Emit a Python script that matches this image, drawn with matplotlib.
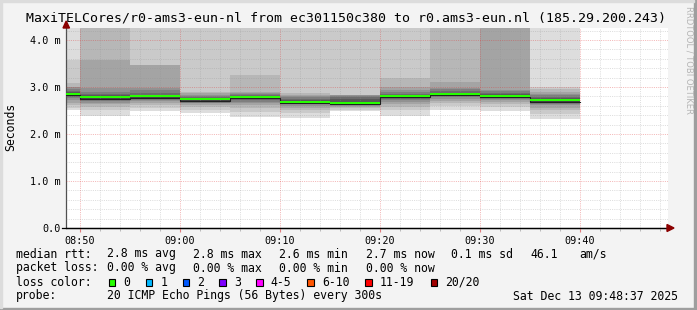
import numpy as np
import matplotlib
matplotlib.use("Agg")
import matplotlib.pyplot as plt
from matplotlib.patches import Rectangle, Polygon

W, H = 697, 310

# smokeping data: 11 five-minute steps, 20 sorted pings each (ms)
interval_end = ["08:50", "08:55", "09:00", "09:05", "09:10", "09:15",
                "09:20", "09:25", "09:30", "09:35", "09:40"]
median_rtt = [2.84, 2.76, 2.78, 2.72, 2.77, 2.67, 2.64, 2.79, 2.84, 2.79, 2.70]
smoke_pings = [
    [2.51, 2.56, 2.62, 2.66, 2.72, 2.76, 2.79, 2.81, 2.83, 2.84, 2.85, 2.87, 2.89, 2.92, 2.96, 2.99, 3.00, 3.08, 3.58, 4.60],
    [2.38, 2.50, 2.58, 2.63, 2.67, 2.70, 2.72, 2.74, 2.75, 2.76, 2.77, 2.79, 2.82, 2.86, 2.89, 2.98, 3.58, 4.60, 4.60, 4.60],
    [2.48, 2.55, 2.61, 2.66, 2.70, 2.73, 2.75, 2.76, 2.77, 2.78, 2.79, 2.81, 2.84, 2.88, 2.93, 2.98, 3.46, 3.47, 4.60, 4.60],
    [2.45, 2.52, 2.58, 2.62, 2.65, 2.67, 2.69, 2.70, 2.71, 2.72, 2.73, 2.74, 2.76, 2.78, 2.81, 2.84, 2.87, 2.90, 4.60, 4.60],
    [2.36, 2.47, 2.55, 2.61, 2.66, 2.69, 2.72, 2.74, 2.76, 2.77, 2.78, 2.79, 2.81, 2.83, 2.85, 2.87, 2.90, 3.26, 4.60, 4.60],
    [2.34, 2.44, 2.51, 2.56, 2.60, 2.63, 2.65, 2.66, 2.67, 2.67, 2.68, 2.70, 2.72, 2.75, 2.78, 2.81, 2.84, 2.87, 4.60, 4.60],
    [2.48, 2.52, 2.55, 2.58, 2.60, 2.61, 2.62, 2.63, 2.64, 2.64, 2.65, 2.68, 2.74, 2.79, 2.81, 2.82, 2.83, 2.83, 4.60, 4.60],
    [2.39, 2.50, 2.58, 2.64, 2.68, 2.72, 2.75, 2.77, 2.78, 2.79, 2.80, 2.81, 2.83, 2.86, 2.90, 2.94, 3.00, 3.19, 4.60, 4.60],
    [2.51, 2.60, 2.66, 2.71, 2.75, 2.78, 2.80, 2.82, 2.83, 2.84, 2.85, 2.86, 2.88, 2.91, 2.95, 2.98, 3.11, 4.60, 4.60, 4.60],
    [2.48, 2.57, 2.63, 2.68, 2.72, 2.75, 2.77, 2.78, 2.79, 2.79, 2.80, 2.82, 2.85, 2.88, 2.91, 2.94, 4.60, 4.60, 4.60, 4.60],
    [2.32, 2.42, 2.50, 2.56, 2.61, 2.64, 2.67, 2.68, 2.69, 2.70, 2.71, 2.73, 2.76, 2.79, 2.82, 2.86, 2.90, 2.95, 3.00, 4.60],
]
x_labels = ["08:50", "09:00", "09:10", "09:20", "09:30", "09:40"]
y_ticks = [0, 1, 2, 3, 4]
y_labels = ["0.0", "1.0 m", "2.0 m", "3.0 m", "4.0 m"]
t_start, t_end = "08:48:37", "09:48:37"
y_top = 4.255

title = "MaxiTELCores/r0-ams3-eun-nl from ec301150c380 to r0.ams3-eun.nl (185.29.200.243)"
stats_rtt = ["2.8 ms avg", "2.8 ms max", "2.6 ms min", "2.7 ms now", "0.1 ms sd", "46.1", "am/s"]
stats_loss = ["0.00 % avg", "0.00 % max", "0.00 % min", "0.00 % now"]
loss_labels = ["0", "1", "2", "3", "4-5", "6-10", "11-19", "20/20"]
loss_colors = ["#26ff00", "#00b8ff", "#0059ff", "#7e00ff", "#ff00ff", "#ff5500", "#ff0000", "#a10000"]
probe_text = "20 ICMP Echo Pings (56 Bytes) every 300s"
stamp = "Sat Dec 13 09:48:37 2025"


def tmin(s):
    parts = [int(p) for p in s.split(":")]
    m = parts[0] * 60 + parts[1]
    if len(parts) > 2:
        m += parts[2] / 60.0
    return m


MONO = "DejaVu Sans Mono"
px = y_top / 200.0  # one pixel in data units

fig = plt.figure(figsize=(W / 100, H / 100), dpi=100)
fig.patch.set_facecolor("#f3f3f3")
# 3d frame
fig.patches.append(Rectangle((0, 0), 1, 2 / H, transform=fig.transFigure, color="#9e9e9e", zorder=0))
fig.patches.append(Rectangle((1 - 3 / W, 0), 3 / W, 1, transform=fig.transFigure, color="#9e9e9e", zorder=0))
fig.patches.append(Rectangle((0, 1 - 2 / H), 1 - 3 / W, 2 / H, transform=fig.transFigure, color="#dcdcdc", zorder=0))
fig.patches.append(Rectangle((0, 2 / H), 2 / W, 1, transform=fig.transFigure, color="#dcdcdc", zorder=0))

ax = fig.add_axes([66 / W, (H - 228) / H, 602 / W, 200 / H])
ax.set_facecolor("white")
x0 = tmin(t_start)
x1 = x0 + 60.2
ax.set_xlim(x0, x1)
ax.set_ylim(0, y_top)

ends = np.array([tmin(s) for s in interval_end])
pings = np.array(smoke_pings)
half = pings.shape[1] // 2
for k in range(half):
    c = int(190 / half * (half - 1 - k)) + 50
    col = "#%02x%02x%02x" % (c, c, c)
    lo = pings[:, k]
    hi = pings[:, -1 - k]
    ax.bar(ends - 5, hi - lo, bottom=lo, width=5, align="edge", color=col,
           linewidth=0, antialiased=False, zorder=1)

# median line, dark step plus green loss-colour band
med = np.array(median_rtt)
xs = np.append(ends - 5, ends[-1])
ax.step(xs, np.append(med, med[-1]) - 0.5 * px, where="post", color="#202020", lw=0.8, zorder=3)
ax.bar(ends - 5, 2 * px, bottom=med, width=5, align="edge", color=loss_colors[0],
       linewidth=0, antialiased=False, zorder=4)

# grid
ax.set_xticks([tmin(s) for s in x_labels])
ax.set_xticklabels(x_labels)
ax.set_xticks(np.arange(tmin("08:50"), x1, 2), minor=True)
ax.set_yticks(y_ticks)
ax.set_yticklabels(y_labels)
ax.set_yticks(np.arange(0, y_top, 0.2), minor=True)
ax.grid(which="minor", color="#8f8f8f", alpha=0.3, lw=0.72, ls=(0, (1, 1.2)), zorder=5)
ax.grid(which="major", color="#de3030", alpha=0.35, lw=0.72, ls=(0, (1, 1.2)), zorder=5)
ax.set_axisbelow(False)
for lab in ax.get_xticklabels() + ax.get_yticklabels():
    lab.set_fontfamily(MONO)
    lab.set_fontsize(7.3)
ax.tick_params(axis="x", which="major", length=3, color="#e08080", pad=2.5)
ax.tick_params(axis="x", which="minor", length=2, color="#b0b0b0")
ax.tick_params(axis="y", which="both", length=0, pad=4)

for s in ["top", "right"]:
    ax.spines[s].set_visible(False)
ax.spines["left"].set_color("#505050")
ax.spines["bottom"].set_color("#000000")
ax.spines["left"].set_linewidth(0.9)
ax.spines["bottom"].set_linewidth(0.9)

# arrows
fig.patches.append(Polygon([[63 / W, 1 - 28 / H], [69.5 / W, 1 - 28 / H], [66.2 / W, 1 - 21 / H]],
                           closed=True, transform=fig.transFigure, color="#8b0000", zorder=10))
fig.patches.append(Polygon([[667 / W, 1 - 224.5 / H], [667 / W, 1 - 231.5 / H], [674 / W, 1 - 228 / H]],
                           closed=True, transform=fig.transFigure, color="#8b0000", zorder=10))
fig.add_artist(plt.Line2D([62 / W, 667 / W], [1 - 228 / H, 1 - 228 / H], color="black", lw=0.9))


def ftext(x, y, s, **kw):
    kw.setdefault("fontfamily", MONO)
    kw.setdefault("fontsize", 8.3)
    kw.setdefault("va", "center")
    fig.text(x / W, 1 - y / H, s, **kw)


ftext(11, 127, "Seconds", rotation=90, ha="center")
ftext(346.5, 18, title, fontsize=9.5, ha="center")
ftext(689, 60, "RRDTOOL / TOBI OETIKER", fontsize=6, color="#b4b4b4", rotation=-90, ha="center",
      fontfamily="DejaVu Sans")

rtt_x = [107, 193, 279, 366, 451, 530, 579]
ftext(16, 254, "median rtt:")
for x, s in zip(rtt_x, stats_rtt):
    ftext(x, 254, s)
ftext(16, 268, "packet loss:")
for x, s in zip(rtt_x, stats_loss):
    ftext(x, 268, s)
ftext(16, 282, "loss color:")
sq_x = [108.7, 145.7, 182.7, 219.3, 256, 307.3, 365.3, 430.7]
for x, s, c in zip(sq_x, loss_labels, loss_colors):
    fig.patches.append(Rectangle((x / W, 1 - 285.5 / H), 6.5 / W, 7 / H, transform=fig.transFigure,
                                 facecolor=c, edgecolor="black", lw=0.8))
    ftext(x + 14.5, 282, s)
ftext(16, 296, "probe:")
ftext(107, 296, probe_text)
ftext(513.3, 296, stamp)

fig.savefig("out.png", dpi=100, facecolor=fig.get_facecolor())
